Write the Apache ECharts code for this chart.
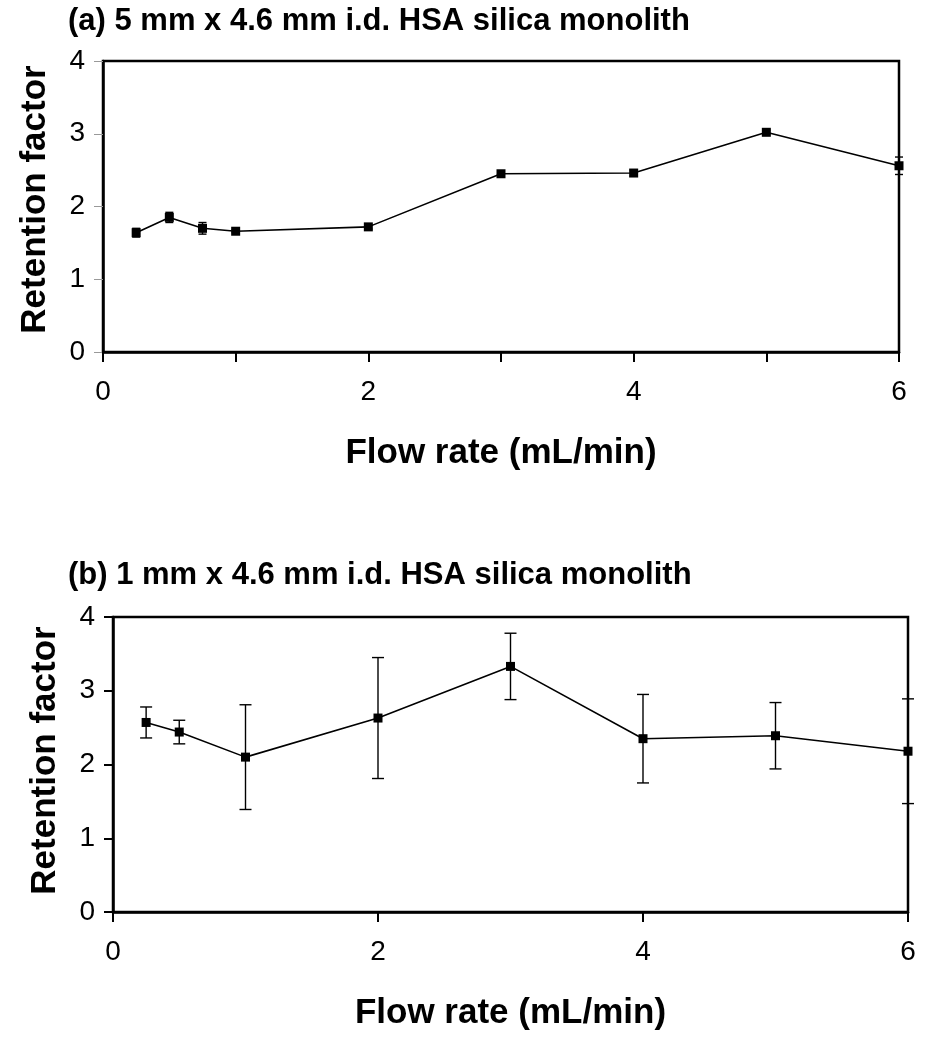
<!DOCTYPE html>
<html>
<head>
<meta charset="utf-8">
<script src="https://cdn.jsdelivr.net/npm/echarts@6/dist/echarts.min.js"></script>
<style>
  html, body { margin: 0; padding: 0; background: #fff; }
  #main { width: 936px; height: 1050px; }
</style>
</head>
<body>
<div id="main"></div>
<script>
// (a) 5 mm column
var flowA = [0.25, 0.5, 0.75, 1, 2, 3, 4, 5, 6];
var kA = [1.64, 1.85, 1.70, 1.66, 1.72, 2.45, 2.46, 3.02, 2.56];
var errA = [0.06, 0.07, 0.08, 0.02, 0.03, 0.04, 0.04, 0.03, 0.12];

// (b) 1 mm column
var flowB = [0.25, 0.5, 1, 2, 3, 4, 5, 6];
var kB = [2.57, 2.44, 2.10, 2.63, 3.33, 2.35, 2.39, 2.18];
var errB = [0.21, 0.16, 0.71, 0.82, 0.45, 0.60, 0.45, 0.71];

var titleA = '(a) 5 mm x 4.6 mm i.d. HSA silica monolith';
var titleB = '(b) 1 mm x 4.6 mm i.d. HSA silica monolith';
var xName = 'Flow rate (mL/min)';
var yName = 'Retention factor';

var FONT = '"Liberation Sans", Arial, sans-serif';

function pairs(xs, ys) {
    return xs.map(function (x, i) { return [x, ys[i]]; });
}
function errData(xs, ys, es) {
    return xs.map(function (x, i) { return [x, ys[i] + es[i], ys[i] - es[i]]; });
}
function errRender(halfCap) {
    return function (params, api) {
        var top = api.coord([api.value(0), api.value(1)]);
        var bot = api.coord([api.value(0), api.value(2)]);
        var st = { stroke: '#000', lineWidth: 1.4 };
        return {
            type: 'group',
            children: [
                { type: 'line', shape: { x1: top[0], y1: top[1], x2: bot[0], y2: bot[1] }, style: st },
                { type: 'line', shape: { x1: top[0] - halfCap, y1: top[1], x2: top[0] + halfCap, y2: top[1] }, style: st },
                { type: 'line', shape: { x1: bot[0] - halfCap, y1: bot[1], x2: bot[0] + halfCap, y2: bot[1] }, style: st }
            ]
        };
    };
}

function xAxisCfg(idx, interval) {
    return {
        type: 'value', gridIndex: idx, min: 0, max: 6, interval: interval,
        name: xName, nameLocation: 'middle', nameGap: 84,
        nameTextStyle: { fontFamily: FONT, fontSize: 35, fontWeight: 'bold', color: '#000' },
        axisLine: { lineStyle: { color: '#000', width: 2.5 } },
        axisTick: { inside: false, length: 10, lineStyle: { color: '#000', width: 2 } },
        axisLabel: {
            fontFamily: FONT, fontSize: 28, color: '#000', margin: 26,
            formatter: function (v) { return v % 2 === 0 ? String(v) : ''; }
        },
        splitLine: { show: false }
    };
}
function yAxisCfg(idx, tickColor, tickWidth, shift) {
    return {
        type: 'value', gridIndex: idx, min: 0, max: 4, interval: 1,
        name: yName, nameLocation: 'middle', nameGap: 50, nameRotate: 90,
        nameTextStyle: { fontFamily: FONT, fontSize: 35, fontWeight: 'bold', color: '#000', padding: [0, 0, 0, shift] },
        axisLine: { lineStyle: { color: '#000', width: 2.5 } },
        axisTick: { inside: false, length: 9, lineStyle: { color: tickColor, width: tickWidth } },
        axisLabel: { fontFamily: FONT, fontSize: 28, color: '#000', margin: 18 },
        splitLine: { show: false }
    };
}

var chart = echarts.init(document.getElementById('main'), null, { renderer: 'canvas' });

var option = {
    backgroundColor: '#fff',
    animation: false,
    title: [
        { text: titleA, left: 63, top: 1, textStyle: { fontFamily: FONT, fontSize: 31, fontWeight: 'bold', color: '#000' } },
        { text: titleB, left: 63, top: 555, textStyle: { fontFamily: FONT, fontSize: 31, fontWeight: 'bold', color: '#000' } }
    ],
    grid: [
        { left: 103, top: 61, width: 796, height: 291, show: true, borderColor: '#000', borderWidth: 2.5, backgroundColor: 'transparent' },
        { left: 113, top: 617, width: 795, height: 295, show: true, borderColor: '#000', borderWidth: 2.5, backgroundColor: 'transparent' }
    ],
    xAxis: [xAxisCfg(0, 1), xAxisCfg(1, 2)],
    yAxis: [yAxisCfg(0, '#999', 1, 14), yAxisCfg(1, '#000', 2, 8)],
    series: [
        {
            type: 'custom', xAxisIndex: 0, yAxisIndex: 0, z: 3,
            renderItem: errRender(4), data: errData(flowA, kA, errA)
        },
        {
            type: 'line', xAxisIndex: 0, yAxisIndex: 0, z: 4,
            data: pairs(flowA, kA), symbol: 'rect', symbolSize: 9,
            lineStyle: { color: '#000', width: 1.6 }, itemStyle: { color: '#000' }
        },
        {
            type: 'custom', xAxisIndex: 1, yAxisIndex: 1, z: 3,
            renderItem: errRender(6), data: errData(flowB, kB, errB)
        },
        {
            type: 'line', xAxisIndex: 1, yAxisIndex: 1, z: 4,
            data: pairs(flowB, kB), symbol: 'rect', symbolSize: 9,
            lineStyle: { color: '#000', width: 1.6 }, itemStyle: { color: '#000' }
        }
    ]
};

chart.setOption(option);
</script>
</body>
</html>
